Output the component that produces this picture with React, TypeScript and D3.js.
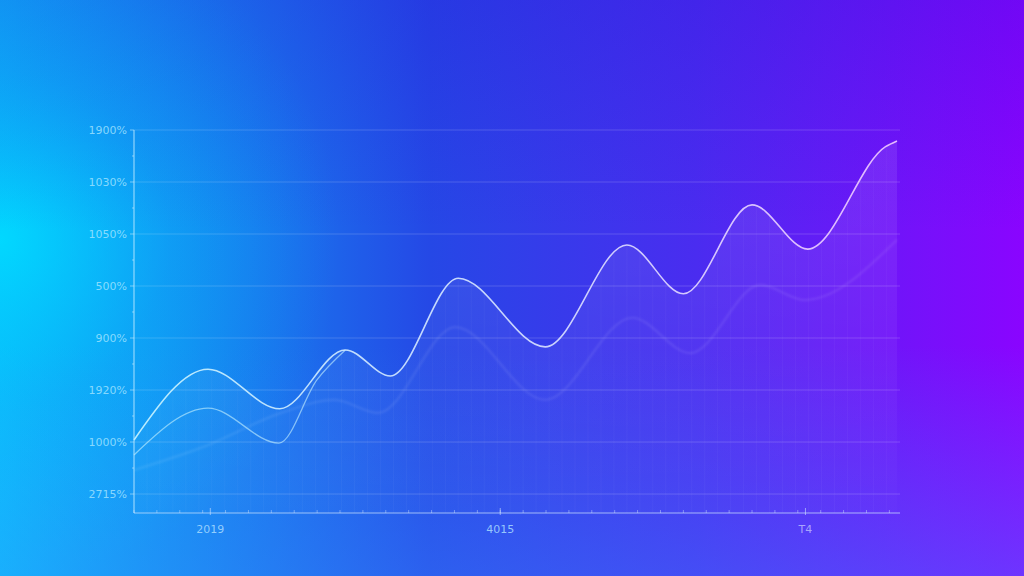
import React from "react";
import * as d3 from "d3";

const W = 1024;
const H = 576;

// y tick labels, bottom to top (tick values 0..7)
const yTickValues = [0, 1, 2, 3, 4, 5, 6, 7];
const yTickLabels = ["2715%", "1000%", "1920%", "900%", "500%", "1050%", "1030%", "1900%"];

// x labels
const xLabelValues = [10, 48, 88];
const xLabels = ["2019", "4015", "T4"];

// main series
const mainX = [0, 9.7, 19.1, 27.7, 33.6, 42.5, 53.9, 64.6, 72.0, 81.0, 88.3, 98.5, 100];
const mainY = [1.04, 2.4, 1.64, 2.77, 2.27, 4.15, 2.83, 4.79, 3.85, 5.56, 4.71, 6.68, 6.79];

// secondary bright series (early part)
const secondX = [0, 9.7, 19.0, 24.0, 27.7];
const secondY = [0.75, 1.65, 0.98, 2.2, 2.77];

// faint series
const faintX = [0, 9.7, 19.1, 26.3, 32.0, 42.1, 53.9, 65.3, 72.9, 82.1, 87.9, 100];
const faintY = [0.46, 0.94, 1.55, 1.81, 1.56, 3.21, 1.81, 3.39, 2.71, 4.02, 3.73, 4.89];

export default function App() {
  const left = 134, right = 897, top = 130, axisY = 513;
  const x = d3.scaleLinear().domain([0, 100]).range([left, right]);
  const y = d3.scaleLinear().domain([-0.365, 7]).range([axisY, top]);

  const mk = (xs: number[], ys: number[]) => xs.map((v, i) => [v, ys[i]] as [number, number]);
  const line = d3.line<[number, number]>().x(d => x(d[0])).y(d => y(d[1])).curve(d3.curveMonotoneX);
  const area = d3.area<[number, number]>().x(d => x(d[0])).y0(axisY).y1(d => y(d[1])).curve(d3.curveMonotoneX);

  const mainPts = mk(mainX, mainY);
  const secondPts = mk(secondX, secondY);
  const faintPts = mk(faintX, faintY);

  const minorX = d3.range(0, 100.1, 3);
  const stripes = d3.range(0, 100.1, 1.7);
  const yMinor = d3.range(0, 7.01, 0.5);

  return (
    <svg width={W} height={H} style={{ position: "fixed", left: 0, top: 0, display: "block" }}>
      <defs>
        <linearGradient id="bgH" x1="0" y1="0" x2="1" y2="0">
          <stop offset="0" stopColor="#08c2fc" />
          <stop offset="0.2" stopColor="#1488f0" />
          <stop offset="0.42" stopColor="#2548e6" />
          <stop offset="0.68" stopColor="#4a2cf0" />
          <stop offset="1" stopColor="#8a04ff" />
        </linearGradient>
        <radialGradient id="glow" cx="0" cy="240" r="340" gradientUnits="userSpaceOnUse">
          <stop offset="0" stopColor="#00dcff" stopOpacity="0.85" />
          <stop offset="0.5" stopColor="#08b8fb" stopOpacity="0.28" />
          <stop offset="1" stopColor="#08b8fb" stopOpacity="0" />
        </radialGradient>
        <linearGradient id="bgV" x1="0" y1="0" x2="0" y2="1">
          <stop offset="0" stopColor="#2a10d8" stopOpacity="0.25" />
          <stop offset="0.4" stopColor="#2a10d8" stopOpacity="0" />
          <stop offset="0.6" stopColor="#3a8cff" stopOpacity="0" />
          <stop offset="1" stopColor="#3a8cff" stopOpacity="0.35" />
        </linearGradient>
        <linearGradient id="fillG" x1="0" y1="0" x2="0" y2="1">
          <stop offset="0" stopColor="#ffffff" stopOpacity="0.09" />
          <stop offset="1" stopColor="#ffffff" stopOpacity="0.01" />
        </linearGradient>
        <linearGradient id="lineG" x1={left} y1="0" x2={right} y2="0" gradientUnits="userSpaceOnUse">
          <stop offset="0" stopColor="#c8f4ff" />
          <stop offset="0.5" stopColor="#d8e4ff" />
          <stop offset="1" stopColor="#f0c8ff" />
        </linearGradient>
        <clipPath id="areaClip">
          <path d={area(mainPts) || ""} />
        </clipPath>
        <filter id="soft" x="-5%" y="-5%" width="110%" height="110%">
          <feGaussianBlur stdDeviation="1.2" />
        </filter>
      </defs>

      <rect width={W} height={H} fill="url(#bgH)" />
      <rect width={W} height={H} fill="url(#glow)" />
      <rect width={W} height={H} fill="url(#bgV)" />

      {/* gridlines */}
      {yTickValues.map((v, i) => (
        <line key={"g" + i} x1={left} x2={right + 3} y1={y(v)} y2={y(v)} stroke="#ffffff" strokeOpacity={0.17} strokeWidth={1} />
      ))}

      {/* area fill */}
      <path d={area(mainPts) || ""} fill="url(#fillG)" />
      <g clipPath="url(#areaClip)">
        {stripes.map((v, i) => (
          <line key={"s" + i} x1={x(v)} x2={x(v)} y1={top} y2={axisY} stroke="#ffffff" strokeOpacity={0.035} strokeWidth={1} />
        ))}
      </g>

      {/* faint line */}
      <path d={line(faintPts) || ""} fill="none" stroke="#ffffff" strokeOpacity={0.09} strokeWidth={2.2} filter="url(#soft)" />
      {/* secondary line */}
      <path d={line(secondPts) || ""} fill="none" stroke="#c8f4ff" strokeOpacity={0.6} strokeWidth={1.3} />
      {/* main line */}
      <path d={line(mainPts) || ""} fill="none" stroke="url(#lineG)" strokeOpacity={0.9} strokeWidth={1.6} />

      {/* axes */}
      <line x1={left} x2={left} y1={top} y2={axisY} stroke="#bfeaff" strokeOpacity={0.75} strokeWidth={1.2} />
      <line x1={left} x2={right + 3} y1={axisY} y2={axisY} stroke="#cfe6ff" strokeOpacity={0.7} strokeWidth={1.2} />
      {yMinor.map((v, i) => (
        <line key={"ym" + i} x1={left - (v % 1 === 0 ? 4 : 2)} x2={left} y1={y(v)} y2={y(v)} stroke="#bfeaff" strokeOpacity={0.6} />
      ))}
      {minorX.map((v, i) => (
        <line key={"xm" + i} x1={x(v)} x2={x(v)} y1={axisY - 3} y2={axisY} stroke="#d0e4ff" strokeOpacity={0.45} />
      ))}
      {xLabelValues.map((v, i) => (
        <line key={"xM" + i} x1={x(v)} x2={x(v)} y1={axisY - 5} y2={axisY + 2} stroke="#d0e4ff" strokeOpacity={0.6} />
      ))}

      {/* y labels */}
      {yTickValues.map((v, i) => (
        <text key={"yl" + i} x={127} y={y(v)} dy="0.35em" textAnchor="end" fontFamily="'DejaVu Sans', sans-serif" fontSize={11} fill="#a8e6ff" fillOpacity={0.8}>
          {yTickLabels[i]}
        </text>
      ))}
      {/* x labels */}
      {xLabelValues.map((v, i) => (
        <text key={"xl" + i} x={x(v)} y={533} textAnchor="middle" fontFamily="'DejaVu Sans', sans-serif" fontSize={11} fill={i === 2 ? "#b8b8ff" : "#a8dcff"} fillOpacity={0.85}>
          {xLabels[i]}
        </text>
      ))}
    </svg>
  );
}
